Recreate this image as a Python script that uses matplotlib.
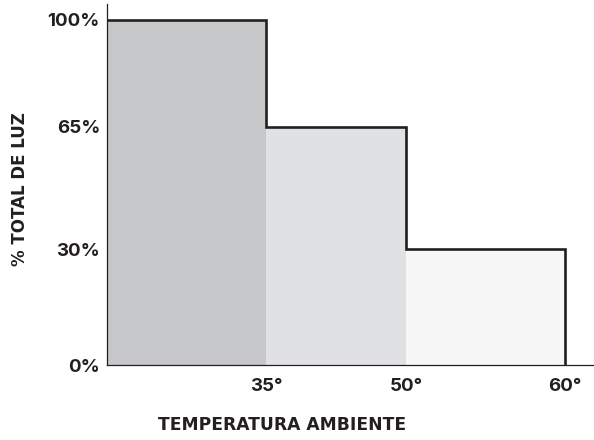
import numpy as np
import matplotlib
matplotlib.use('Agg')
import matplotlib.pyplot as plt

# temperature band edges (first edge is unlabelled) and light share per band
temp_edges = [20, 35, 50, 60]
temp_labels = ['35°', '50°', '60°']
light_pct = [100, 65, 30]
pct_ticks = [0, 30, 65, 100]
pct_labels = ['0%', '30%', '65%', '100%']
band_colors = ['#c6c7c9', '#e0e1e3', '#f7f7f7']

# the original drawing is not to scale: piecewise maps for the axes
X_SRC, X_DST = [20, 35, 50, 60], [0, 159, 299, 458]
Y_SRC, Y_DST = [0, 30, 65, 100], [0, 33.6, 69.0, 100]

def fx(v):
    v = np.asarray(v)
    return np.interp(v, X_SRC, X_DST) + np.where(v > 60, (v - 60) * 15.9, 0)

def fx_inv(v):
    v = np.asarray(v)
    return np.interp(v, X_DST, X_SRC) + np.where(v > 458, (v - 458) / 15.9, 0)

def fy(v):
    v = np.asarray(v)
    return np.interp(v, Y_SRC, Y_DST) + np.where(v > 100, v - 100, 0)

def fy_inv(v):
    v = np.asarray(v)
    return np.interp(v, Y_DST, Y_SRC) + np.where(v > 100, v - 100, 0)

plt.rcParams['font.family'] = ['Inter', 'DejaVu Sans']
ink = '#231f20'

fig = plt.figure(figsize=(5.94, 4.40), dpi=100)
ax = fig.add_axes([107/594, 75/440, 487/594, 361/440])
ax.set_xscale('function', functions=(fx, fx_inv))
ax.set_yscale('function', functions=(fy, fy_inv))

for i, h in enumerate(light_pct):
    ax.fill_between([temp_edges[i], temp_edges[i + 1]], 0, h,
                    color=band_colors[i], lw=0, zorder=1)

# step outline
xs, ys = [temp_edges[0]], [light_pct[0]]
for i, h in enumerate(light_pct):
    xs += [temp_edges[i + 1], temp_edges[i + 1]]
    ys += [h, light_pct[i + 1] if i + 1 < len(light_pct) else 0]
ax.plot(xs, ys, color=ink, lw=1.9, solid_joinstyle='miter', zorder=3)

ax.set_xlim(temp_edges[0], fx_inv(487))
ax.set_ylim(0, fy_inv(104.6))

ax.set_xticks(temp_edges[1:])
ax.set_xticklabels(temp_labels)
ax.set_yticks(pct_ticks)
ax.set_yticklabels(pct_labels)
ax.tick_params(axis='both', length=0, labelsize=13.5, colors=ink)
ax.tick_params(axis='x', pad=9)
ax.tick_params(axis='y', pad=5)
for lab in ax.get_xticklabels() + ax.get_yticklabels():
    lab.set_fontweight('bold')

for s in ['top', 'right']:
    ax.spines[s].set_visible(False)
for s in ['left', 'bottom']:
    ax.spines[s].set_color(ink)
    ax.spines[s].set_linewidth(0.9)

lab_font = ['DejaVu Sans']
fig.text(282/594, 1 - 425/440, 'TEMPERATURA AMBIENTE', ha='center', va='center',
         fontsize=12.3, fontweight='bold', color=ink, family=lab_font)
fig.text(20/594, 1 - 189/440, '% TOTAL DE LUZ', ha='center', va='center',
         rotation=90, fontsize=12, fontweight='bold', color=ink, family=lab_font)

fig.savefig('out.png', dpi=100)
